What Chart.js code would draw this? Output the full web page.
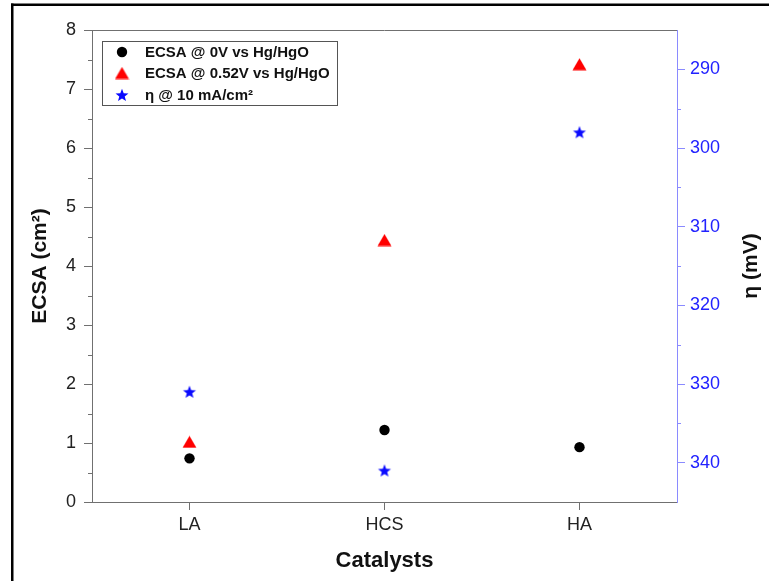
<!DOCTYPE html>
<html>
<head>
<meta charset="utf-8">
<script src="https://cdn.jsdelivr.net/npm/chart.js@4.4.0/dist/chart.umd.min.js"></script>
<style>
  html, body { margin: 0; padding: 0; background: #fff; }
  #wrap { width: 769px; height: 581px; }
</style>
</head>
<body>
<div id="wrap"><canvas id="ecsaChart" width="769" height="581"></canvas></div>
<script>
// --- Data ---
const catalysts = ['LA', 'HCS', 'HA'];
const ecsa0V = [0.74, 1.22, 0.93];     // ECSA @ 0V vs Hg/HgO (cm2)
const ecsa052V = [1.02, 4.44, 7.42];   // ECSA @ 0.52V vs Hg/HgO (cm2)
const etaAt10 = [331, 341, 298];       // overpotential @ 10 mA/cm2 (mV)

const ecsaMinor = [0.5, 1.5, 2.5, 3.5, 4.5, 5.5, 6.5, 7.5];
const etaTicks = [290, 300, 310, 320, 330, 340];
const etaMinor = [295, 305, 315, 325, 335];

const seriesNames = ['ECSA @ 0V vs Hg/HgO', 'ECSA @ 0.52V vs Hg/HgO', 'η @ 10 mA/cm²'];
const etaTitle = 'η (mV)';

// --- Styles ---
const FONT = "'Liberation Sans', Arial, sans-serif";
const BLUE_TEXT = '#2222ff';
const BLUE_LINE = '#8a8aff';
const GRAY_LINE = '#707070';

// filled marker images (Chart.js 'star' is only an asterisk)
function makeStar(r, color) {
    const size = Math.ceil(r * 2 + 2);
    const c = document.createElement('canvas');
    c.width = c.height = size;
    const g = c.getContext('2d');
    g.fillStyle = color;
    g.beginPath();
    for (let i = 0; i < 10; i++) {
        const rr = i % 2 ? r * 0.42 : r;
        const a = -Math.PI / 2 + i * Math.PI / 5;
        g.lineTo(size / 2 + rr * Math.cos(a), size / 2 + 0.6 + rr * Math.sin(a));
    }
    g.closePath();
    g.fill();
    return c;
}

function makeTriangle(w, h, color) {
    const c = document.createElement('canvas');
    c.width = w + 1;
    c.height = h + 1;
    const g = c.getContext('2d');
    g.fillStyle = color;
    g.beginPath();
    g.moveTo(0.5, h + 0.5);
    g.lineTo(w / 2 + 0.5, 0.5);
    g.lineTo(w + 0.5, h + 0.5);
    g.closePath();
    g.fill();
    return c;
}

const starImg = makeStar(6.8, '#0a0aff');
const triImg = makeTriangle(14, 12, '#ff0000');

// --- Plugin: frame, top axis line, minor ticks, right title, legend box ---
const decorPlugin = {
    id: 'decor',
    afterDraw(chart) {
        const ctx = chart.ctx;
        const area = chart.chartArea;
        const yL = chart.scales.y;
        const yR = chart.scales.y1;
        ctx.save();

        // outer figure frame (top + left)
        ctx.fillStyle = '#000';
        ctx.fillRect(11, 3.5, 769 - 11, 2.5);
        ctx.fillRect(11, 3.5, 2.5, 581);

        // top axis line
        ctx.strokeStyle = GRAY_LINE;
        ctx.lineWidth = 1;
        ctx.beginPath();
        ctx.moveTo(area.left, area.top + 0.5);
        ctx.lineTo(area.right, area.top + 0.5);
        ctx.stroke();

        // minor ticks left
        ctx.beginPath();
        ecsaMinor.forEach(v => {
            const py = Math.round(yL.getPixelForValue(v)) + 0.5;
            ctx.moveTo(area.left - 4, py);
            ctx.lineTo(area.left, py);
        });
        ctx.stroke();

        // minor ticks right
        ctx.strokeStyle = BLUE_LINE;
        ctx.beginPath();
        etaMinor.forEach(v => {
            const py = Math.round(yR.getPixelForValue(v)) + 0.5;
            ctx.moveTo(area.right, py);
            ctx.lineTo(area.right + 4, py);
        });
        ctx.stroke();

        // right axis title, reading bottom to top like the left one
        ctx.save();
        ctx.translate(yR.right - 18, (area.top + area.bottom) / 2);
        ctx.rotate(-Math.PI / 2);
        ctx.fillStyle = '#111';
        ctx.font = 'bold 21px ' + FONT;
        ctx.textAlign = 'center';
        ctx.textBaseline = 'middle';
        ctx.fillText(etaTitle, 0, 0);
        ctx.restore();

        // legend box
        const bx = area.left + 10, by = area.top + 11, bw = 235, bh = 64;
        ctx.strokeStyle = '#555';
        ctx.lineWidth = 1;
        ctx.strokeRect(bx + 0.5, by + 0.5, bw, bh);

        const rowsY = [by + 11, by + 32, by + 54];
        const symX = bx + 20;
        ctx.fillStyle = '#000';
        ctx.beginPath();
        ctx.arc(symX, rowsY[0], 5.2, 0, Math.PI * 2);
        ctx.fill();
        ctx.drawImage(triImg, symX - triImg.width / 2, rowsY[1] - triImg.height / 2);
        ctx.drawImage(starImg, symX - starImg.width / 2, rowsY[2] - starImg.height / 2);

        ctx.fillStyle = '#111';
        ctx.font = 'bold 15px ' + FONT;
        ctx.textBaseline = 'middle';
        ctx.textAlign = 'left';
        seriesNames.forEach((name, i) => ctx.fillText(name, bx + 43, rowsY[i] + 1));

        ctx.restore();
    }
};

// --- Chart ---
const ctx = document.getElementById('ecsaChart').getContext('2d');

new Chart(ctx, {
    type: 'line',
    data: {
        labels: catalysts,
        datasets: [
            {
                label: seriesNames[0],
                data: ecsa0V,
                yAxisID: 'y',
                showLine: false,
                pointStyle: 'circle',
                pointRadius: 5.2,
                pointBackgroundColor: '#000',
                pointBorderWidth: 0
            },
            {
                label: seriesNames[1],
                data: ecsa052V,
                yAxisID: 'y',
                showLine: false,
                pointStyle: triImg,
                pointRadius: 7
            },
            {
                label: seriesNames[2],
                data: etaAt10,
                yAxisID: 'y1',
                showLine: false,
                pointStyle: starImg,
                pointRadius: 7
            }
        ]
    },
    options: {
        responsive: false,
        devicePixelRatio: 1,
        animation: false,
        layout: { padding: { top: 30, left: 0, right: 0, bottom: 0 } },
        plugins: {
            legend: { display: false },
            tooltip: { enabled: false }
        },
        scales: {
            x: {
                type: 'category',
                offset: true,
                grid: { drawOnChartArea: false, drawTicks: true, tickLength: 8, color: GRAY_LINE, offset: false },
                border: { display: true, color: GRAY_LINE, width: 1 },
                ticks: { color: '#222', font: { family: FONT, size: 18 }, padding: 4, maxRotation: 0 },
                title: {
                    display: true, text: 'Catalysts', color: '#111',
                    font: { family: FONT, size: 22, weight: 'bold' },
                    padding: { top: 0, bottom: 7 }
                },
                afterFit: s => { s.height = 79; }
            },
            y: {
                position: 'left',
                min: 0,
                max: 8,
                grid: { drawOnChartArea: false, drawTicks: true, tickLength: 8, color: GRAY_LINE },
                border: { display: true, color: GRAY_LINE, width: 1 },
                ticks: { stepSize: 1, color: '#222', font: { family: FONT, size: 18 }, padding: 8 },
                title: {
                    display: true, text: 'ECSA (cm²)', color: '#111',
                    font: { family: FONT, size: 21, weight: 'bold' },
                    padding: { top: 28, bottom: 0 }
                },
                afterFit: s => { s.width = 92; }
            },
            y1: {
                position: 'right',
                min: 285,
                max: 345,
                reverse: true,
                grid: { drawOnChartArea: false, drawTicks: true, tickLength: 8, color: BLUE_LINE },
                border: { display: true, color: BLUE_LINE, width: 1 },
                ticks: { color: BLUE_TEXT, font: { family: FONT, size: 18 }, padding: 5 },
                afterBuildTicks: s => { s.ticks = etaTicks.map(v => ({ value: v })); },
                title: { display: false },
                afterFit: s => { s.width = 92; }
            }
        }
    },
    plugins: [decorPlugin]
});
</script>
</body>
</html>
